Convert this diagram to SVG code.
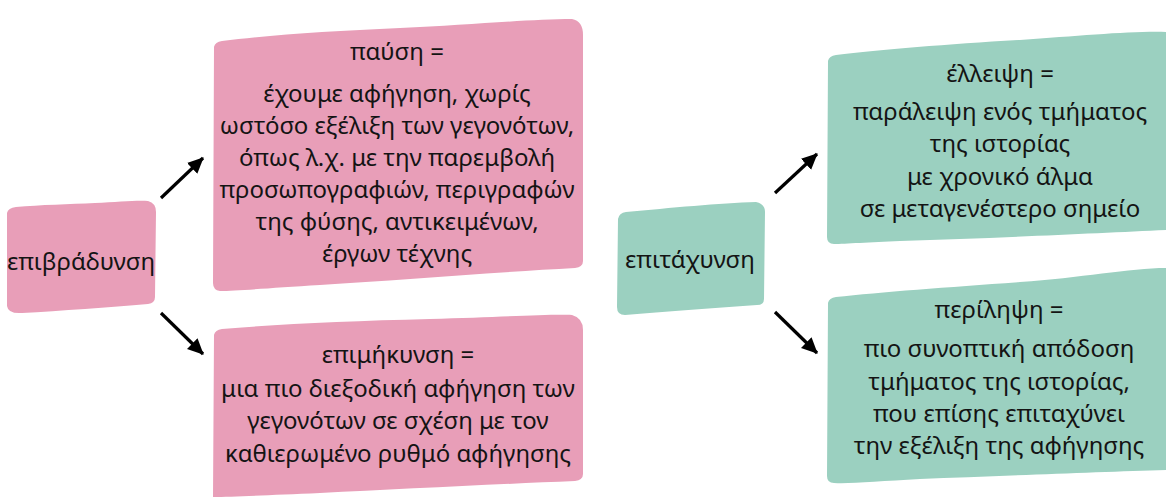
<svg xmlns="http://www.w3.org/2000/svg" width="1166" height="498" viewBox="0 0 1166 498">
<defs>
<style>
.pink{fill:#E89EB8}
.teal{fill:#9BD0C0}
text{font-family:"Noto Sans","DejaVu Sans",sans-serif;font-size:24px;fill:#141414;text-anchor:middle}
.arrow{stroke:#000;stroke-width:3.2;fill:none;marker-end:url(#ah)}
</style>
<marker id="ah" markerUnits="userSpaceOnUse" markerWidth="16" markerHeight="16" viewBox="0 0 16 16" refX="15" refY="8" orient="auto">
<path d="M0,0.5 L16,8 L0,15.5 Z" fill="#000"/>
</marker>
</defs>
<rect width="1166" height="498" fill="#fff"/>
<g id="connectors">
<line class="arrow" x1="161" y1="198" x2="203" y2="158"/>
<line class="arrow" x1="161" y1="313" x2="203" y2="354"/>
<line class="arrow" x1="775" y1="193" x2="817" y2="154"/>
<line class="arrow" x1="775" y1="312" x2="817" y2="353"/>
</g>
<g id="epivradynsi">
<path class="pink" d="M7,213 Q8,208 16,207 C40,205 70,204 95,203 C118,202 138,200 148,201 Q156,203 156,212 L155,297 Q155,303 148,304 C110,307 60,311 22,313 Q8,314 7,306 Z"/>
<text x="81" y="270">επιβράδυνση</text>
</g>
<g id="pafsi">
<path class="pink" d="M214,47 Q215,42 222,41 C270,35 330,31 400,28 C470,25 530,19 572,19 Q583,21 583,35 L583,261 Q583,267 575,268 C500,272 400,280 320,285 C270,288 235,291 220,291 Q213,290 213,283 Z"/>
<text x="397" y="60">παύση =</text>
<text x="397" y="102">έχουμε αφήγηση, χωρίς</text>
<text x="397" y="134">ωστόσο εξέλιξη των γεγονότων,</text>
<text x="397" y="166">όπως λ.χ. με την παρεμβολή</text>
<text x="397" y="198">προσωπογραφιών, περιγραφών</text>
<text x="397" y="230">της φύσης, αντικειμένων,</text>
<text x="397" y="262">έργων τέχνης</text>
</g>
<g id="epimikynsi">
<path class="pink" d="M214,335 Q215,330 222,329 C280,324 350,321 430,319 C500,317 550,314 572,315 Q583,318 583,330 L583,474 Q583,480 575,481 C500,484 400,489 320,493 C270,495 232,497 213,497 Z"/>
<text x="398" y="363">επιμήκυνση =</text>
<text x="398" y="397">μια πιο διεξοδική αφήγηση των</text>
<text x="398" y="429">γεγονότων σε σχέση με τον</text>
<text x="398" y="462">καθιερωμένο ρυθμό αφήγησης</text>
</g>
<g id="epitachynsi">
<path class="teal" d="M618,219 Q619,213 626,212 C670,208 720,203 756,202 Q765,204 765,212 L764,299 Q764,305 757,305 C710,308 665,312 625,315 Q617,315 617,307 Z"/>
<text x="690" y="268">επιτάχυνση</text>
</g>
<g id="elleipsi">
<path class="teal" d="M828,61 Q829,56 836,55 C880,50 950,44 1020,40 C1080,36 1130,31 1166,32 L1166,230 C1100,233 1000,238 900,241 C870,242 845,244 834,244 Q827,244 827,237 Z"/>
<text x="1000" y="82">έλλειψη =</text>
<text x="1000" y="120">παράλειψη ενός τμήματος</text>
<text x="1000" y="152">της ιστορίας</text>
<text x="1000" y="185">με χρονικό άλμα</text>
<text x="1000" y="217">σε μεταγενέστερο σημείο</text>
</g>
<g id="perilipsi">
<path class="teal" d="M828,303 Q829,298 836,297 C880,292 950,287 1020,282 C1080,278 1130,268 1166,268 L1166,470 C1100,472 1000,476 920,479 C880,481 850,484 834,483 Q827,483 827,476 Z"/>
<text x="999" y="318">περίληψη =</text>
<text x="999" y="357">πιο συνοπτική απόδοση</text>
<text x="999" y="390">τμήματος της ιστορίας,</text>
<text x="999" y="422">που επίσης επιταχύνει</text>
<text x="999" y="454">την εξέλιξη της αφήγησης</text>
</g>
</svg>
